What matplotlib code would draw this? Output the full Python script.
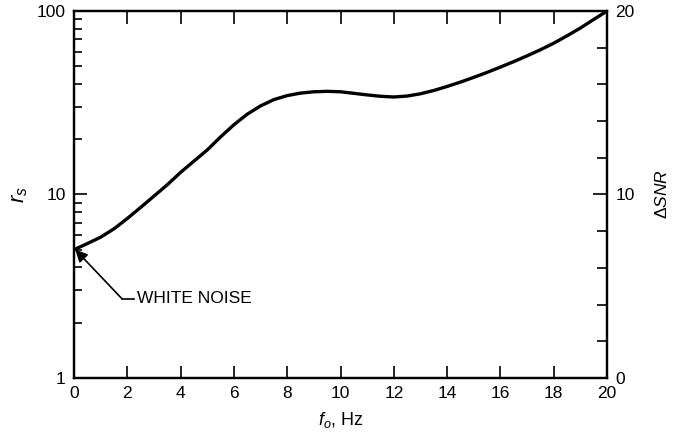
import numpy as np
import matplotlib
matplotlib.use("Agg")
import matplotlib.pyplot as plt
from matplotlib.ticker import LogLocator, NullFormatter, MultipleLocator

plt.rcParams['font.family'] = ['Liberation Sans', 'DejaVu Sans']
plt.rcParams['mathtext.fontset'] = 'custom'
plt.rcParams['mathtext.rm'] = 'Liberation Sans'
plt.rcParams['mathtext.it'] = 'Liberation Sans:italic'

# f_o in Hz, r_s
freq = [0, 0.5, 1, 1.5, 2, 2.5, 3, 3.5, 4, 4.5, 5, 5.5, 6, 6.5, 7, 7.5,
        8, 8.5, 9, 9.5, 10, 10.5, 11, 11.5, 12, 12.5, 13, 13.5, 14, 14.5,
        15, 15.5, 16, 16.5, 17, 17.5, 18, 18.5, 19, 19.5, 20]
r_s = [5.0, 5.4, 5.85, 6.5, 7.4, 8.5, 9.8, 11.3, 13.2, 15.2, 17.5, 20.6,
       24.0, 27.4, 30.4, 32.9, 34.6, 35.7, 36.3, 36.5, 36.3, 35.6, 34.9,
       34.3, 34.0, 34.4, 35.4, 36.9, 38.8, 41.0, 43.5, 46.3, 49.5, 53.0,
       57.0, 61.5, 66.8, 73.3, 80.8, 90.0, 100.0]

x_ticks = list(range(0, 21, 2))
left_ticks = [1, 10, 100]
left_labels = ['1', '10', '100']
right_ticks = [0, 10, 20]

fig = plt.figure(figsize=(6.79, 4.42), dpi=100)
ax = fig.add_axes([0.109, 0.145, 0.785, 0.830])

ax.plot(freq, r_s, color='black', lw=2.4, solid_capstyle='round',
        solid_joinstyle='round')
ax.set_yscale('log')
ax.set_xlim(0, 20)
ax.set_ylim(1, 100)

ax.set_xticks(x_ticks)
ax.set_yticks(left_ticks)
ax.set_yticklabels(left_labels)
ax.yaxis.set_minor_locator(LogLocator(base=10, subs=np.arange(2, 10)))
ax.yaxis.set_minor_formatter(NullFormatter())
ax.tick_params(which='major', direction='in', length=9, width=1.2,
               labelsize=12.5, top=True, right=False, pad=6)
ax.tick_params(which='minor', direction='in', length=6, width=1.2,
               top=False, right=False)
for sp in ax.spines.values():
    sp.set_linewidth(1.6)

ax.set_xlabel('$f_o$, Hz', fontsize=13, labelpad=6)
ax.set_ylabel('$r_s$', fontsize=16, labelpad=5)

# right hand scale
ax2 = ax.twinx()
ax2.set_ylim(0, 20)
ax2.set_yticks(right_ticks)
ax2.yaxis.set_minor_locator(MultipleLocator(2))
ax2.tick_params(which='major', direction='in', length=10, width=1.2,
                labelsize=12.5, pad=6)
ax2.tick_params(which='minor', direction='in', length=7, width=1.2)
ax2.set_ylabel(r'$\Delta SNR$', fontsize=12.5, rotation=90, labelpad=14)
for sp in ax2.spines.values():
    sp.set_linewidth(1.6)

# white noise callout
ax.annotate('', xy=(0.05, 5.0), xytext=(1.8, 2.7),
            arrowprops=dict(arrowstyle='-|>', color='black', lw=1.2,
                            mutation_scale=18, shrinkA=0, shrinkB=0))
ax.plot([1.8, 2.25], [2.7, 2.7], color='black', lw=1.2)
ax.text(2.35, 2.7, 'WHITE NOISE', fontsize=12.5, va='center', ha='left')

fig.savefig('out.png', dpi=100)
